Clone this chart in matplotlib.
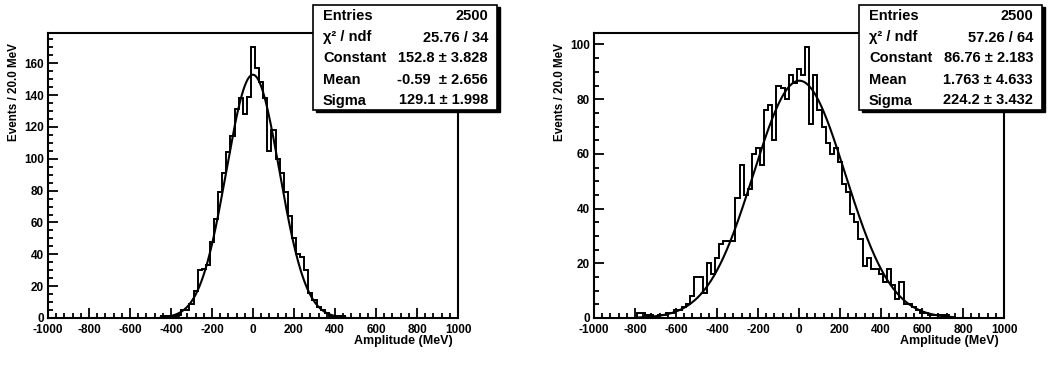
import matplotlib
matplotlib.use("Agg")
import matplotlib.pyplot as plt
import numpy as np
from matplotlib.patches import Rectangle
from matplotlib.ticker import MultipleLocator

plt.rcParams['font.family'] = ['Liberation Sans', 'DejaVu Sans']
plt.rcParams['axes.unicode_minus'] = False

W, H = 1052, 366
bin_width = 20

# left histogram: bins from -450 to 450
left_first_edge = -450
left_counts = [1, 1, 1, 1, 2, 5, 5, 9, 17, 30, 31, 33, 48, 62, 79, 91, 104, 114,
               131, 138, 128, 139, 170, 157, 148, 138, 105, 118, 100, 91, 79, 64,
               50, 40, 38, 30, 16, 11, 7, 5, 3, 1, 1, 1, 1]
left_fit = (152.8, -0.59, 129.1)   # constant, mean, sigma
left_fit_range = (-450, 450)
left_ymax = 179
left_stat_values = ["2500", "25.76 / 34", "152.8 \u00b1 3.828", "-0.59  \u00b1 2.656", "129.1 \u00b1 1.998"]

# right histogram: bins from -790 to 750
right_first_edge = -790
right_counts = [2, 2, 1, 1, 0, 1, 1, 2, 2, 3, 3, 4, 5, 8, 15, 15, 9, 20, 16, 22,
                27, 28, 28, 28, 44, 56, 45, 47, 60, 62, 56, 76, 78, 65, 85, 84, 80,
                89, 86, 91, 89, 99, 71, 89, 76, 70, 64, 60, 62, 57, 49, 46, 38, 35,
                29, 19, 22, 18, 18, 16, 13, 18, 12, 7, 13, 5, 5, 4, 3, 2, 2, 1, 1,
                1, 1, 1, 0]
right_fit = (86.76, 1.763, 224.2)
right_fit_range = (-780, 760)
right_ymax = 104.2
right_stat_values = ["2500", "57.26 / 64", "86.76 \u00b1 2.183", "1.763 \u00b1 4.633", "224.2 \u00b1 3.432"]

stat_labels = ["Entries", "\u03c7\u00b2 / ndf", "Constant", "Mean", "Sigma"]


def fx(px):
    return px / W


def fy(py):
    return 1 - py / H


def draw_panel(fig, x0, counts, first_edge, fit, fit_range, ymax, box_x, values):
    ax = fig.add_axes([fx(x0), fy(318), fx(410), 285 / H])
    edges = first_edge + bin_width * np.arange(len(counts) + 1)
    ax.stairs(counts, edges, color="black", lw=1.4, baseline=0)

    # gaussian fit curve from the fitted parameters
    const, mean, sigma = fit
    xs = np.linspace(fit_range[0], fit_range[1], 600)
    ax.plot(xs, const * np.exp(-0.5 * ((xs - mean) / sigma) ** 2), color="black", lw=1.5)

    ax.set_xlim(-1000, 1000)
    ax.set_ylim(0, ymax)
    ax.xaxis.set_major_locator(MultipleLocator(200))
    ax.xaxis.set_minor_locator(MultipleLocator(40))
    ax.yaxis.set_major_locator(MultipleLocator(20))
    ax.yaxis.set_minor_locator(MultipleLocator(5))
    ax.tick_params(which="both", direction="in", top=False, right=False, width=1.3,
                   labelsize=8.5, pad=3)
    ax.tick_params(axis="x", pad=4.5)
    ax.tick_params(which="major", length=7)
    ax.tick_params(which="minor", length=3.5)
    for lab in ax.get_xticklabels() + ax.get_yticklabels():
        lab.set_fontweight("bold")
    for sp in ax.spines.values():
        sp.set_linewidth(1.5)

    ax.set_xlabel("Amplitude (MeV)", fontsize=9, fontweight="bold", ha="right")
    ax.xaxis.set_label_coords(0.988, -0.06)
    ax.set_ylabel("Events / 20.0 MeV", fontsize=8.4, fontweight="bold", ha="right")
    ax.yaxis.set_label_coords(-0.068, 0.965)

    # stats box with shadow
    bx0, bx1, by0, by1 = box_x[0], box_x[1], 5, 110
    fig.add_artist(Rectangle((fx(bx0 + 2.5), fy(by1 + 2.5)), fx(bx1 - bx0), (by1 - by0) / H,
                             transform=fig.transFigure, facecolor="black",
                             edgecolor="black", zorder=10))
    fig.add_artist(Rectangle((fx(bx0), fy(by1)), fx(bx1 - bx0), (by1 - by0) / H,
                             transform=fig.transFigure, facecolor="white",
                             edgecolor="black", lw=1.2, zorder=11))
    for i, (lab, val) in enumerate(zip(stat_labels, values)):
        base = 20.5 + 21 * i
        fig.text(fx(bx0 + 10), fy(base), lab, ha="left", va="baseline",
                 fontsize=10.5, fontweight="bold", zorder=12)
        fig.text(fx(bx1 - 9), fy(base), val, ha="right", va="baseline",
                 fontsize=10.5, fontweight="bold", zorder=12)
    return ax


fig = plt.figure(figsize=(W / 100, H / 100), dpi=100)
draw_panel(fig, 48, left_counts, left_first_edge, left_fit, left_fit_range,
           left_ymax, (313, 497), left_stat_values)
draw_panel(fig, 594, right_counts, right_first_edge, right_fit, right_fit_range,
           right_ymax, (859, 1042), right_stat_values)

fig.savefig("out.png", dpi=100)
